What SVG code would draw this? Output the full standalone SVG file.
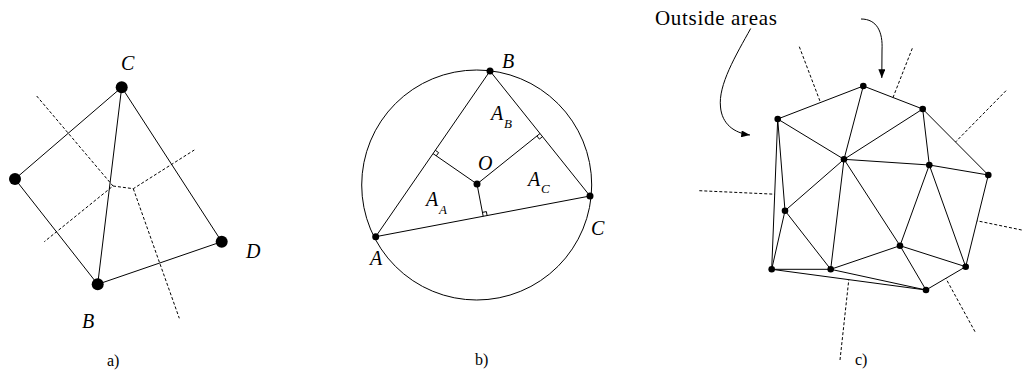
<svg xmlns="http://www.w3.org/2000/svg" width="1024" height="375" viewBox="0 0 1024 375">
<style>
.e{stroke:#000;stroke-width:1;fill:none}
.d{stroke:#000;stroke-width:1;fill:none;stroke-dasharray:3,2}
.n{fill:#000}
.lbl{font-family:"Liberation Serif",serif;font-style:italic;font-size:20px;fill:#000}
.sub{font-family:"Liberation Serif",serif;font-style:italic;font-size:13px;fill:#000}
.cap{font-family:"Liberation Serif",serif;font-size:16px;fill:#000}
</style>
<defs>
<marker id="ah" viewBox="0 0 10 8" refX="10" refY="4" markerWidth="9" markerHeight="7" markerUnits="userSpaceOnUse" orient="auto">
<path d="M0,0 L10,4 L0,8 Z" fill="#000"/>
</marker>
</defs>
<rect width="1024" height="375" fill="#fff"/>

<!-- Panel a -->
<g id="panel-a-connectors">
<path class="e" d="M15,179 L121.7,87.3 L221.7,241.7 L97.7,284.3 Z M121.7,87.3 L97.7,284.3"/>
<path class="d" d="M36.7,96 L113,186 L44.3,241.7 M113,186 L133.3,188.7 L194.3,150 M133.3,188.7 L179.3,318.3"/>
</g>
<g id="a-L"><circle class="n" cx="15" cy="179" r="6"/></g>
<g id="a-C"><circle class="n" cx="121.7" cy="87.3" r="6"/><text class="lbl" x="121" y="70">C</text></g>
<g id="a-B"><circle class="n" cx="97.7" cy="284.3" r="6"/><text class="lbl" x="82" y="328">B</text></g>
<g id="a-D"><circle class="n" cx="221.7" cy="241.7" r="6"/><text class="lbl" x="246" y="258">D</text></g>
<text class="cap" x="107" y="366">a)</text>

<!-- Panel b -->
<g id="panel-b-connectors">
<circle class="e" cx="476.7" cy="185" r="115"/>
<path class="e" d="M375.7,236.7 L490,71 L590,196 Z"/>
<path class="e" d="M477,184 L433,153.6 M477,184 L540,133.5 M477,184 L483.2,216.3"/>
<path class="e" stroke-width="0.8" d="M435.3,150.3 L438.6,152.6 L436.3,155.9 M542.5,136.6 L539.4,139.1 L536.9,136 M487.1,215.6 L486.4,211.6 L482.4,212.4"/>
</g>
<g id="b-A"><circle class="n" cx="375.7" cy="236.7" r="3.5"/><text class="lbl" x="370" y="265">A</text></g>
<g id="b-B"><circle class="n" cx="490" cy="71" r="3.5"/><text class="lbl" x="502" y="68">B</text></g>
<g id="b-C"><circle class="n" cx="590" cy="196" r="3.5"/><text class="lbl" x="591" y="235">C</text></g>
<g id="b-O"><circle class="n" cx="477" cy="184" r="3.5"/><text class="lbl" x="478" y="170">O</text></g>
<g id="b-AB"><text class="lbl" x="491" y="120">A</text><text class="sub" x="504" y="128">B</text></g>
<g id="b-AC"><text class="lbl" x="528" y="186">A</text><text class="sub" x="541" y="193">C</text></g>
<g id="b-AA"><text class="lbl" x="426" y="206">A</text><text class="sub" x="439" y="214">A</text></g>
<text class="cap" x="475" y="365">b)</text>

<!-- Panel c -->
<g id="panel-c-connectors">
<path class="e" d="M777.7,119 L863.3,86 L922.7,109 L988.3,175 L965.7,266.7 L926,290 L771.7,269.3 Z"/>
<path class="e" d="M777.7,119 L785,210.7 L771.7,269.3 L830.7,269.3 L926,290
M777.7,119 L844,159.3 L863.3,86 M922.7,109 L844,159.3 L929.3,165 L922.7,109
M929.3,165 L988.3,175 M844,159.3 L785,210.7 L830.7,269.3 L844,159.3 L900,245.7
M929.3,165 L900,245.7 L830.7,269.3 M929.3,165 L965.7,266.7 L900,245.7 L926,290"/>
<path class="d" d="M799.3,46.7 L820.5,102.5 M912.3,48.3 L893,97.5 M1006,90.7 L955.5,142 M1021.7,230 L977,220.8 M975,331.7 L945.8,278.3 M840,360 L848.8,279.7 M699.3,190.7 L774.7,194.2"/>
<path class="e" marker-end="url(#ah)" d="M750.7,28.5 C736,55 718,85 720.5,107 C722,124 734,133 750,135"/>
<path class="e" marker-end="url(#ah)" d="M861,19 C877,19 883,32 882,50 L881.8,78"/>
</g>
<g id="c-n1"><circle class="n" cx="777.7" cy="119" r="3.3"/></g>
<g id="c-n2"><circle class="n" cx="863.3" cy="86" r="3.3"/></g>
<g id="c-n3"><circle class="n" cx="922.7" cy="109" r="3.3"/></g>
<g id="c-n4"><circle class="n" cx="844" cy="159.3" r="3.3"/></g>
<g id="c-n5"><circle class="n" cx="929.3" cy="165" r="3.3"/></g>
<g id="c-n6"><circle class="n" cx="988.3" cy="175" r="3.3"/></g>
<g id="c-n7"><circle class="n" cx="785" cy="210.7" r="3.3"/></g>
<g id="c-n8"><circle class="n" cx="900" cy="245.7" r="3.3"/></g>
<g id="c-n9"><circle class="n" cx="771.7" cy="269.3" r="3.3"/></g>
<g id="c-n10"><circle class="n" cx="830.7" cy="269.3" r="3.3"/></g>
<g id="c-n11"><circle class="n" cx="965.7" cy="266.7" r="3.3"/></g>
<g id="c-n12"><circle class="n" cx="926" cy="290" r="3.3"/></g>
<g id="c-label"><text x="655" y="25" font-family="Liberation Serif, serif" font-size="21" textLength="122">Outside areas</text></g>
<text class="cap" x="855" y="365">c)</text>
</svg>
